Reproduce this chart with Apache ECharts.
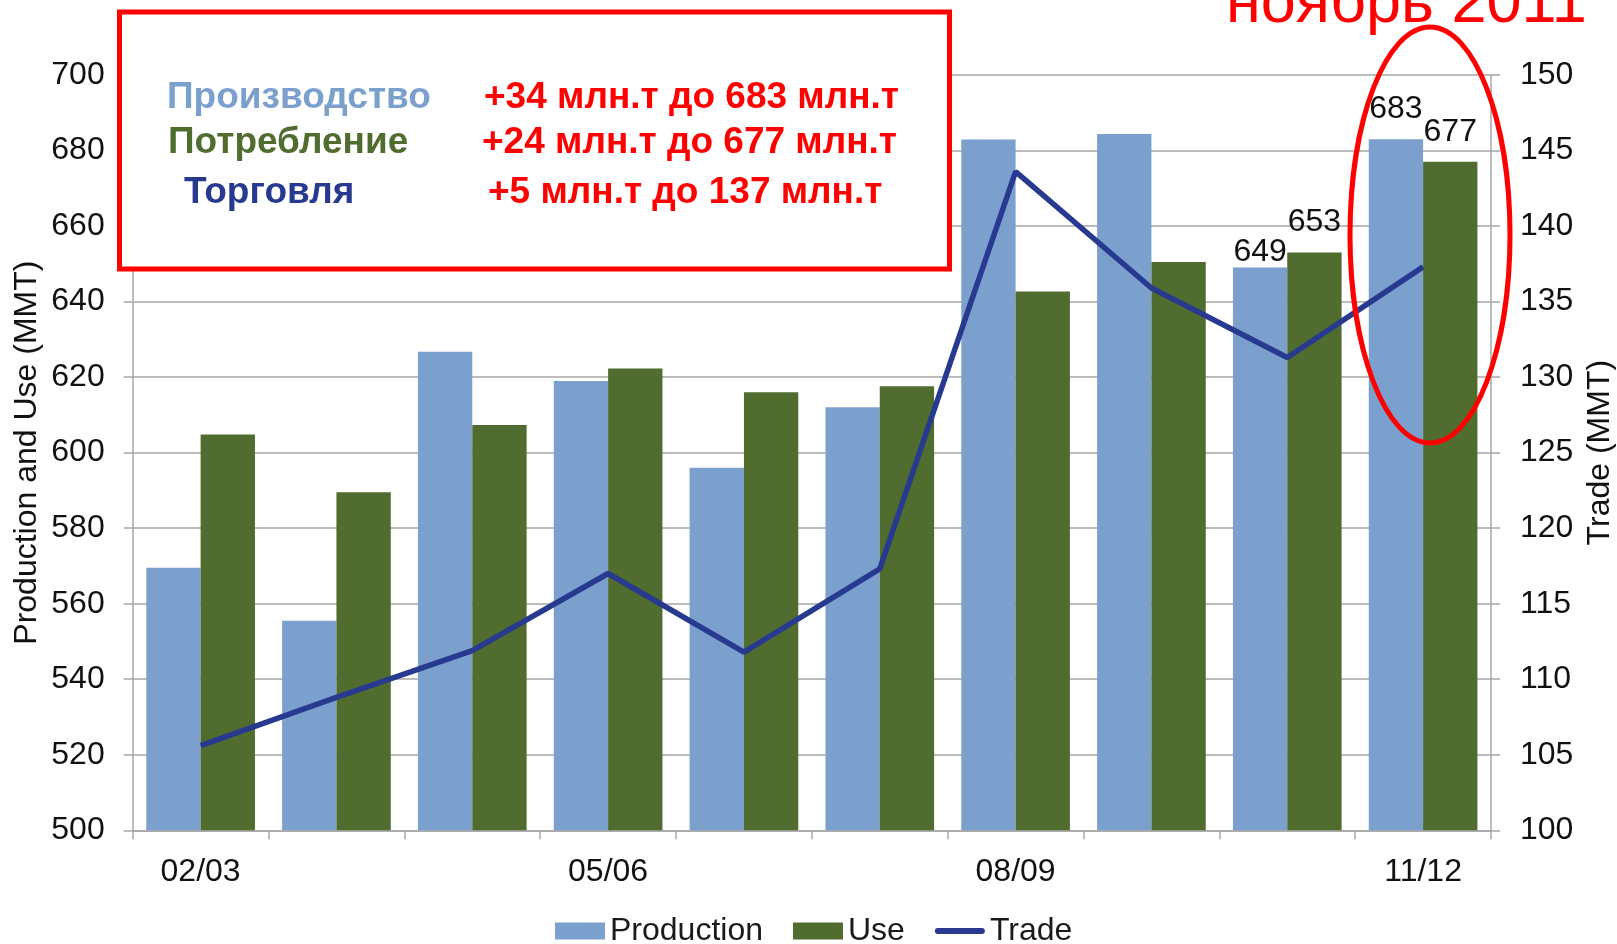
<!DOCTYPE html>
<html>
<head>
<meta charset="utf-8">
<script src="https://cdn.jsdelivr.net/npm/echarts@6/dist/echarts.min.js"></script>
<style>
html,body{margin:0;padding:0;background:#fff;}
#c{width:1617px;height:944px;}
</style>
</head>
<body>
<div id="c"></div>
<script>
// ---- data ----
var categories = ['02/03','03/04','04/05','05/06','06/07','07/08','08/09','09/10','10/11','11/12'];
var production = [569.5, 555.5, 626.7, 619, 596, 612, 682.9, 684.4, 649, 683];
var use = [604.8, 589.5, 607.3, 622.3, 616, 617.6, 642.7, 650.5, 653, 677];
var trade = [105.6, 108.8, 111.9, 117.0, 111.8, 117.3, 143.6, 135.9, 131.3, 137.3];
var leftTicks = {min: 500, max: 700, step: 20};
var rightTicks = {min: 100, max: 150, step: 5};
var labelledFrom = 8; // categories whose bars carry value labels
var titleText = 'ноябрь 2011';
var boxRows = [
  ['Производство', '+34 млн.т до 683 млн.т'],
  ['Потребление', '+24 млн.т до 677 млн.т'],
  ['Торговля', '+5 млн.т до 137 млн.т']
];

var FONT = '"Liberation Sans", Arial, Helvetica, sans-serif';
var cProd = '#7ba0cd', cUse = '#506d2f', cTrade = '#283a90', cRed = '#ff0000';
var axisGray = '#a6a6a6';

function barData(arr, distances) {
  return arr.map(function (v, i) {
    if (i >= labelledFrom) {
      return {value: v, label: {show: true, position: 'top', distance: distances[i - labelledFrom],
        color: '#111', fontSize: 32, fontFamily: FONT, formatter: function (p) { return Math.round(p.value); }}};
    }
    return v;
  });
}

var chart = echarts.init(document.getElementById('c'), null, {renderer: 'canvas'});
var rowStyle = [
  {x: 167, y: 98, color: cProd},
  {x: 168, y: 143, color: cUse},
  {x: 184, y: 193, color: cTrade}
];
var rowRightX = [484, 482, 488];
var graphics = [
  {type: 'rect', z: 100, shape: {x: 119.5, y: 12, width: 830, height: 257},
   style: {fill: '#fff', stroke: cRed, lineWidth: 5}}
];
boxRows.forEach(function (r, i) {
  graphics.push({type: 'text', z: 101, x: rowStyle[i].x, y: rowStyle[i].y,
    style: {text: r[0], fill: rowStyle[i].color, font: 'bold 37px ' + FONT, textVerticalAlign: 'middle', textAlign: 'left'}});
  graphics.push({type: 'text', z: 101, x: rowRightX[i], y: rowStyle[i].y,
    style: {text: r[1], fill: cRed, font: 'bold 37px ' + FONT, textVerticalAlign: 'middle', textAlign: 'left'}});
});
graphics.push({type: 'ellipse', z: 102, shape: {cx: 1430, cy: 235, rx: 80, ry: 208},
  style: {fill: 'none', stroke: cRed, lineWidth: 5}});
graphics.push({type: 'text', z: 102, x: 1226, y: 5,
  style: {text: titleText, fill: cRed, font: '63px ' + FONT, textVerticalAlign: 'middle', textAlign: 'left'}});

chart.setOption({
  animation: false,
  backgroundColor: '#fff',
  textStyle: {fontFamily: FONT},
  grid: {left: 132.7, right: 126, top: 75, bottom: 113.7, containLabel: false, outerBoundsMode: 'none'},
  legend: {
    bottom: -8, left: 550, itemWidth: 50, itemHeight: 17, itemGap: 30,
    textStyle: {fontSize: 32, color: '#1a1a1a', fontFamily: FONT},
    data: [{name: 'Production', icon: 'rect'}, {name: 'Use', icon: 'rect'},
           {name: 'Trade', icon: 'path://M3,0 L47,0 A3,3 0 0 1 47,6 L3,6 A3,3 0 0 1 3,0 Z'}]
  },
  xAxis: {
    type: 'category', data: categories,
    axisLine: {lineStyle: {color: axisGray, width: 1.5}},
    axisTick: {show: true, length: 9, interval: 0, lineStyle: {color: axisGray, width: 1.5}},
    axisLabel: {interval: 2, fontSize: 32, color: '#111', margin: 26, fontFamily: FONT}
  },
  yAxis: [
    {type: 'value', min: leftTicks.min, max: leftTicks.max, interval: leftTicks.step,
     name: 'Production and Use (MMT)', nameLocation: 'middle', nameRotate: 90, nameGap: 90,
     nameMoveOverlap: false,
     nameTextStyle: {fontSize: 32, color: '#111', fontFamily: FONT},
     axisLine: {show: true, lineStyle: {color: axisGray, width: 1.5}},
     axisTick: {show: true, length: 9, lineStyle: {color: axisGray, width: 1.5}},
     axisLabel: {fontSize: 32, color: '#111', margin: 28, fontFamily: FONT},
     splitLine: {show: true, lineStyle: {color: axisGray, width: 1.5}}},
    {type: 'value', min: rightTicks.min, max: rightTicks.max, interval: rightTicks.step, position: 'right',
     name: 'Trade (MMT)', nameLocation: 'middle', nameRotate: 90, nameGap: 92,
     nameTextStyle: {fontSize: 32, color: '#111', fontFamily: FONT},
     axisLine: {show: true, lineStyle: {color: axisGray, width: 1.5}},
     axisTick: {show: true, length: 9, lineStyle: {color: axisGray, width: 1.5}},
     axisLabel: {fontSize: 32, color: '#111', margin: 29, fontFamily: FONT},
     splitLine: {show: false}}
  ],
  series: [
    {name: 'Production', type: 'bar', data: barData(production, [-1, 14]), barGap: '0%', barCategoryGap: '20%',
     itemStyle: {color: cProd}},
    {name: 'Use', type: 'bar', data: barData(use, [14, 14]), barGap: '0%', barCategoryGap: '20%',
     itemStyle: {color: cUse}},
    {name: 'Trade', type: 'line', yAxisIndex: 1, data: trade, symbol: 'none', z: 5,
     lineStyle: {color: cTrade, width: 5.5}, itemStyle: {color: cTrade}}
  ],
  graphic: graphics
});
</script>
</body>
</html>
